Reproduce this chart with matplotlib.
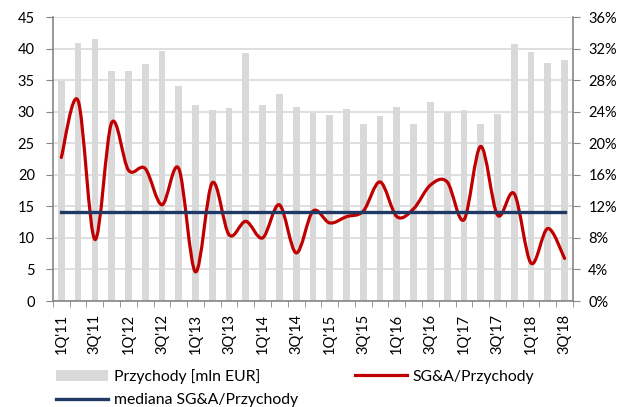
import numpy as np
import matplotlib
matplotlib.use('Agg')
import matplotlib.pyplot as plt
from matplotlib.path import Path
from matplotlib.patches import PathPatch
from matplotlib.lines import Line2D
from matplotlib.patches import Patch
from matplotlib.ticker import FuncFormatter, MultipleLocator

plt.rcParams['font.family'] = ['Lato', 'DejaVu Sans']
plt.rcParams['font.size'] = 10.5

# quarters 1Q'11 .. 3Q'18
quarters = ["1Q'11", "2Q'11", "3Q'11", "4Q'11", "1Q'12", "2Q'12", "3Q'12", "4Q'12",
            "1Q'13", "2Q'13", "3Q'13", "4Q'13", "1Q'14", "2Q'14", "3Q'14", "4Q'14",
            "1Q'15", "2Q'15", "3Q'15", "4Q'15", "1Q'16", "2Q'16", "3Q'16", "4Q'16",
            "1Q'17", "2Q'17", "3Q'17", "4Q'17", "1Q'18", "2Q'18", "3Q'18"]

# revenue, mln EUR (left axis)
revenue = [34.8, 40.9, 41.6, 36.5, 36.5, 37.5, 39.7, 34.0,
           31.0, 30.3, 30.6, 39.3, 31.0, 32.8, 30.8, 29.8,
           29.5, 30.5, 28.0, 29.3, 30.8, 28.0, 31.6, 29.9,
           30.3, 28.1, 29.6, 40.8, 39.5, 37.7, 38.2]

# SG&A / revenue, % (right axis)
sga_ratio = [18.2, 25.4, 7.8, 22.6, 16.6, 16.8, 12.2, 16.8,
             3.7, 15.0, 8.4, 10.1, 8.0, 12.2, 6.1, 11.4,
             9.9, 10.7, 11.4, 15.1, 10.7, 11.7, 14.7, 15.1,
             10.3, 19.6, 10.9, 13.6, 4.8, 9.2, 5.4]

sga_median = 11.35

RED = '#c00000'
NAVY = '#1f3864'
GREY = '#d9d9d9'
AXIS = '#868686'


def smooth_path(xs, ys):
    # Catmull-Rom style smoothing drawn as cubic Bezier segments
    pts = np.column_stack([xs, ys]).astype(float)
    n = len(pts)
    verts = [pts[0]]
    codes = [Path.MOVETO]
    for i in range(n - 1):
        p0 = pts[max(i - 1, 0)]
        p1 = pts[i]
        p2 = pts[i + 1]
        p3 = pts[min(i + 2, n - 1)]
        c1 = p1 + (p2 - p0) / 6.0
        c2 = p2 - (p3 - p1) / 6.0
        verts += [c1, c2, p2]
        codes += [Path.CURVE4] * 3
    return Path(verts, codes)


fig = plt.figure(figsize=(6.3, 4.07), dpi=100)
ax = fig.add_axes([0.084, 0.2604, 0.8255, 0.6976])
x = np.arange(len(quarters))

ax.bar(x, revenue, width=0.4, color=GREY, zorder=2)
ax.set_ylim(0, 45)
ax.set_xlim(-0.5, len(quarters) - 0.5)
ax.yaxis.set_major_locator(MultipleLocator(5))
ax.grid(axis='y', color=GREY, linewidth=1.2, zorder=0)
ax.set_axisbelow(True)

ax.set_xticks(x[::2])
ax.set_xticklabels(quarters[::2], rotation=90)
ax.set_xticks(np.arange(-0.5, len(quarters)), minor=True)
ax.tick_params(axis='x', which='major', length=0, pad=9)
ax.tick_params(axis='x', which='minor', length=4, color=AXIS, direction='out')
ax.tick_params(axis='y', length=5, color=AXIS, pad=8)

for s in ['top', 'right']:
    ax.spines[s].set_visible(False)
for s in ['left', 'bottom']:
    ax.spines[s].set_color(AXIS)
    ax.spines[s].set_linewidth(1.2)

ax2 = ax.twinx()
ax2.set_ylim(0, 36)
ax2.yaxis.set_major_locator(MultipleLocator(4))
ax2.yaxis.set_major_formatter(FuncFormatter(lambda v, p: f'{v:.0f}%'))
ax2.tick_params(axis='y', length=5, color=AXIS, pad=6)
for s in ['top', 'left', 'bottom']:
    ax2.spines[s].set_visible(False)
ax2.spines['right'].set_color(AXIS)
ax2.spines['right'].set_linewidth(1.2)

curve = PathPatch(smooth_path(x, sga_ratio), facecolor='none', edgecolor=RED,
                  linewidth=2.3, capstyle='round', joinstyle='round', zorder=3)
ax2.add_patch(curve)
ax2.plot([x[0], x[-1]], [sga_median, sga_median], color=NAVY, linewidth=2.4, zorder=4)

handles = [Patch(facecolor=GREY, edgecolor='none'),
           Line2D([], [], color=NAVY, linewidth=2.4),
           Line2D([], [], color=RED, linewidth=2.3)]
labels = ['Przychody [mln EUR]', 'mediana SG&A/Przychody', 'SG&A/Przychody']
fig.legend(handles, labels, ncol=2, loc='upper left', bbox_to_anchor=(0.089, 0.094),
           frameon=False, borderpad=0, borderaxespad=0, handlelength=3.3,
           handletextpad=0.4, labelspacing=0.6, columnspacing=3.6,
           prop={'size': 11.3})

fig.savefig('out.png', dpi=100)
